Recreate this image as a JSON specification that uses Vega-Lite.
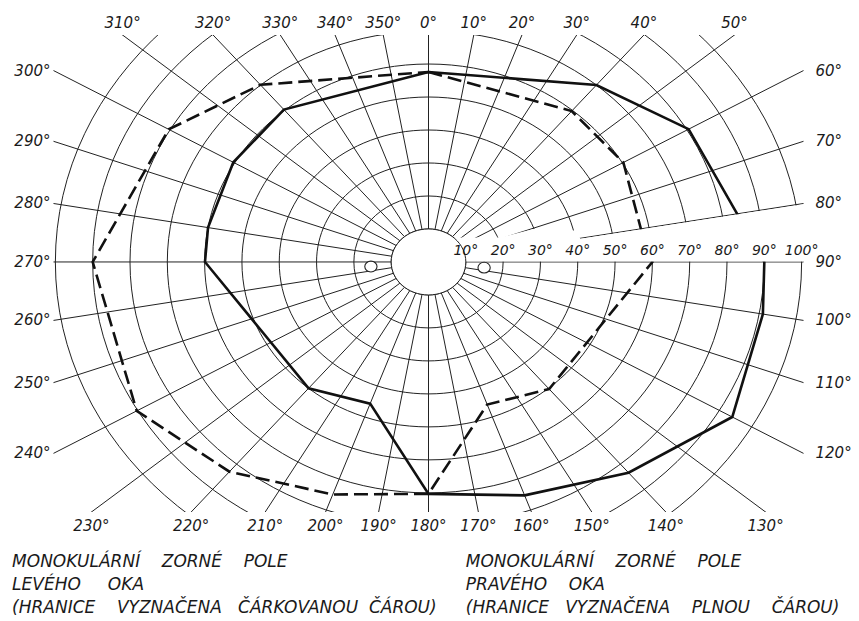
{
  "$schema": "https://vega.github.io/schema/vega-lite/v6.json",
  "width": 750,
  "height": 477,
  "autosize": {"type": "none"},
  "padding": {"left": 53.5, "top": 35, "right": 55.5, "bottom": 109},
  "background": "#ffffff",
  "config": {
    "view": {"stroke": null},
    "text": {"font": "DejaVu Sans", "fontStyle": "italic", "color": "#1a1a1a"}
  },
  "datasets": {
    "grid": [{"r": 10}, {"r": 20}, {"r": 30}, {"r": 40}, {"r": 50}, {"r": 60}, {"r": 70}, {"r": 80}, {"r": 90}, {"r": 100}],
    "spokes": [
      {"angle": 0, "label": "0°"}, {"angle": 10, "label": "10°"}, {"angle": 20, "label": "20°"}, {"angle": 30, "label": "30°"},
      {"angle": 40, "label": "40°"}, {"angle": 50, "label": "50°"}, {"angle": 60, "label": "60°"}, {"angle": 70, "label": "70°"},
      {"angle": 80, "label": "80°"}, {"angle": 90, "label": "90°"}, {"angle": 100, "label": "100°"}, {"angle": 110, "label": "110°"},
      {"angle": 120, "label": "120°"}, {"angle": 130, "label": "130°"}, {"angle": 140, "label": "140°"}, {"angle": 150, "label": "150°"},
      {"angle": 160, "label": "160°"}, {"angle": 170, "label": "170°"}, {"angle": 180, "label": "180°"}, {"angle": 190, "label": "190°"},
      {"angle": 200, "label": "200°"}, {"angle": 210, "label": "210°"}, {"angle": 220, "label": "220°"}, {"angle": 230, "label": "230°"},
      {"angle": 240, "label": "240°"}, {"angle": 250, "label": "250°"}, {"angle": 260, "label": "260°"}, {"angle": 270, "label": "270°"},
      {"angle": 280, "label": "280°"}, {"angle": 290, "label": "290°"}, {"angle": 300, "label": "300°"}, {"angle": 310, "label": "310°"},
      {"angle": 320, "label": "320°"}, {"angle": 330, "label": "330°"}, {"angle": 340, "label": "340°"}, {"angle": 350, "label": "350°"}
    ],
    "field": [
      {"eye": "P", "i": 0, "angle": 0, "r": 57.6},
      {"eye": "P", "i": 1, "angle": 40, "r": 70},
      {"eye": "P", "i": 2, "angle": 60, "r": 80.5},
      {"eye": "P", "i": 3, "angle": 80, "r": 84},
      {"eye": "P", "i": 4, "angle": 90, "r": 90},
      {"eye": "P", "i": 5, "angle": 100, "r": 91},
      {"eye": "P", "i": 6, "angle": 120, "r": 94},
      {"eye": "P", "i": 7, "angle": 140, "r": 83.4},
      {"eye": "P", "i": 8, "angle": 160, "r": 75.3},
      {"eye": "P", "i": 9, "angle": 180, "r": 70.3},
      {"eye": "P", "i": 10, "angle": 200, "r": 45.7},
      {"eye": "P", "i": 11, "angle": 220, "r": 50},
      {"eye": "P", "i": 12, "angle": 270, "r": 59.9},
      {"eye": "P", "i": 13, "angle": 280, "r": 60},
      {"eye": "P", "i": 14, "angle": 300, "r": 60.4},
      {"eye": "P", "i": 15, "angle": 320, "r": 60.3},
      {"eye": "P", "i": 16, "angle": 360, "r": 57.6},
      {"eye": "L", "i": 0, "angle": 0, "r": 57.6},
      {"eye": "L", "i": 1, "angle": 40, "r": 59.7},
      {"eye": "L", "i": 2, "angle": 60, "r": 60.3},
      {"eye": "L", "i": 3, "angle": 80, "r": 57.8},
      {"eye": "L", "i": 4, "angle": 90, "r": 60},
      {"eye": "L", "i": 5, "angle": 140, "r": 50.3},
      {"eye": "L", "i": 6, "angle": 160, "r": 46},
      {"eye": "L", "i": 7, "angle": 180, "r": 70.3},
      {"eye": "L", "i": 8, "angle": 200, "r": 75},
      {"eye": "L", "i": 9, "angle": 220, "r": 83},
      {"eye": "L", "i": 10, "angle": 240, "r": 90.3},
      {"eye": "L", "i": 11, "angle": 270, "r": 90},
      {"eye": "L", "i": 12, "angle": 300, "r": 80.4},
      {"eye": "L", "i": 13, "angle": 320, "r": 70.1},
      {"eye": "L", "i": 14, "angle": 360, "r": 57.6}
    ],
    "rings": [
      {"r": 10, "label": "10°"}, {"r": 20, "label": "20°"}, {"r": 30, "label": "30°"}, {"r": 40, "label": "40°"}, {"r": 50, "label": "50°"},
      {"r": 60, "label": "60°"}, {"r": 70, "label": "70°"}, {"r": 80, "label": "80°"}, {"r": 90, "label": "90°"}, {"r": 100, "label": "100°"}
    ],
    "spots": [{"angle": 264.8, "r": 15.5}, {"angle": 96.6, "r": 15.0}],
    "wedge": [
      {"X": 6.5, "Ytop": 7.4},
      {"X": 19, "Ytop": 7.4},
      {"X": 28.2, "Ytop": 10.0},
      {"X": 39.3, "Ytop": 9.5},
      {"X": 40.7, "Ytop": 7.0},
      {"X": 100.5, "Ytop": 17.5}
    ]
  },
  "layer": [
    {
      "data": {"name": "grid"},
      "mark": {"type": "point", "shape": "M -1 0 A 1 0.8841 0 1 1 1 0 A 1 0.8841 0 1 1 -1 0 Z", "filled": false, "stroke": "#222222", "strokeWidth": 1, "opacity": 1, "clip": true},
      "encoding": {
        "x": {"datum": 0, "type": "quantitative", "scale": {"domain": [-100.5, 100.5], "nice": false, "zero": false}, "axis": null},
        "y": {"datum": 0, "type": "quantitative", "scale": {"domain": [-75.8, 68.8], "nice": false, "zero": false}, "axis": null},
        "size": {"field": "r", "type": "quantitative", "scale": {"type": "pow", "exponent": 2, "domain": [0, 100], "range": [0, 556904]}, "legend": null}
      }
    },
    {
      "data": {"name": "spokes"},
      "transform": [
        {"calculate": "10*sin(datum.angle*PI/180)", "as": "X0"},
        {"calculate": "10*cos(datum.angle*PI/180)", "as": "Y0"},
        {"calculate": "250*sin(datum.angle*PI/180)", "as": "X1"},
        {"calculate": "250*cos(datum.angle*PI/180)", "as": "Y1"}
      ],
      "mark": {"type": "rule", "stroke": "#222222", "strokeWidth": 1, "clip": true},
      "encoding": {
        "x": {"field": "X0", "type": "quantitative", "scale": {"domain": [-100.5, 100.5], "nice": false, "zero": false}, "axis": null},
        "y": {"field": "Y0", "type": "quantitative", "scale": {"domain": [-75.8, 68.8], "nice": false, "zero": false}, "axis": null},
        "x2": {"field": "X1"},
        "y2": {"field": "Y1"}
      }
    },
    {
      "data": {"name": "field"},
      "transform": [
        {"filter": "datum.eye == 'P'"},
        {"calculate": "datum.r*sin(datum.angle*PI/180)", "as": "X"},
        {"calculate": "datum.r*cos(datum.angle*PI/180)", "as": "Y"}
      ],
      "mark": {"type": "line", "stroke": "#111111", "strokeWidth": 2.6, "strokeJoin": "miter", "clip": true},
      "encoding": {
        "x": {"field": "X", "type": "quantitative", "scale": {"domain": [-100.5, 100.5], "nice": false, "zero": false}, "axis": null},
        "y": {"field": "Y", "type": "quantitative", "scale": {"domain": [-75.8, 68.8], "nice": false, "zero": false}, "axis": null},
        "order": {"field": "i", "type": "quantitative"}
      }
    },
    {
      "data": {"name": "field"},
      "transform": [
        {"filter": "datum.eye == 'L'"},
        {"calculate": "datum.r*sin(datum.angle*PI/180)", "as": "X"},
        {"calculate": "datum.r*cos(datum.angle*PI/180)", "as": "Y"}
      ],
      "mark": {"type": "line", "stroke": "#111111", "strokeWidth": 2.6, "strokeDash": [14, 6], "strokeJoin": "miter", "clip": true},
      "encoding": {
        "x": {"field": "X", "type": "quantitative", "scale": {"domain": [-100.5, 100.5], "nice": false, "zero": false}, "axis": null},
        "y": {"field": "Y", "type": "quantitative", "scale": {"domain": [-75.8, 68.8], "nice": false, "zero": false}, "axis": null},
        "order": {"field": "i", "type": "quantitative"}
      }
    },
    {
      "data": {"name": "wedge"},
      "mark": {"type": "area", "fill": "#ffffff", "opacity": 1, "interpolate": "linear", "clip": true},
      "encoding": {
        "x": {"field": "X", "type": "quantitative", "scale": {"domain": [-100.5, 100.5], "nice": false, "zero": false}, "axis": null},
        "y": {"field": "Ytop", "type": "quantitative", "scale": {"domain": [-75.8, 68.8], "nice": false, "zero": false}, "axis": null},
        "y2": {"datum": 0.17}
      }
    },
    {
      "data": {"name": "grid"},
      "transform": [{"filter": "datum.r == 10"}],
      "mark": {"type": "point", "shape": "M -1 0 A 1 0.8841 0 1 1 1 0 A 1 0.8841 0 1 1 -1 0 Z", "filled": true, "fill": "#ffffff", "stroke": "#222222", "strokeWidth": 1, "opacity": 1},
      "encoding": {
        "x": {"datum": 0, "type": "quantitative", "scale": {"domain": [-100.5, 100.5], "nice": false, "zero": false}, "axis": null},
        "y": {"datum": 0, "type": "quantitative", "scale": {"domain": [-75.8, 68.8], "nice": false, "zero": false}, "axis": null},
        "size": {"field": "r", "type": "quantitative", "scale": {"type": "pow", "exponent": 2, "domain": [0, 100], "range": [0, 556904]}, "legend": null}
      }
    },
    {
      "data": {"name": "spots"},
      "transform": [
        {"calculate": "datum.r*sin(datum.angle*PI/180)", "as": "X"},
        {"calculate": "datum.r*cos(datum.angle*PI/180)", "as": "Y"}
      ],
      "mark": {"type": "point", "shape": "M -1 0 A 1 0.8841 0 1 1 1 0 A 1 0.8841 0 1 1 -1 0 Z", "size": 150, "filled": true, "fill": "#ffffff", "stroke": "#222222", "strokeWidth": 1.1, "opacity": 1},
      "encoding": {
        "x": {"field": "X", "type": "quantitative", "scale": {"domain": [-100.5, 100.5], "nice": false, "zero": false}, "axis": null},
        "y": {"field": "Y", "type": "quantitative", "scale": {"domain": [-75.8, 68.8], "nice": false, "zero": false}, "axis": null}
      }
    },
    {
      "data": {"name": "spokes"},
      "transform": [
        {"filter": "datum.angle >= 310 || datum.angle <= 50"},
        {"calculate": "sin(datum.angle*PI/180)", "as": "s"},
        {"calculate": "cos(datum.angle*PI/180)", "as": "c"},
        {"calculate": "min(datum.s > 1e-6 ? 100.5/datum.s : (datum.s < -1e-6 ? -100.5/datum.s : 1e9), datum.c > 1e-6 ? 68.8/datum.c : (datum.c < -1e-6 ? -75.8/datum.c : 1e9))", "as": "t"},
        {"calculate": "datum.t*datum.s", "as": "XE"},
        {"calculate": "datum.t*datum.c", "as": "YE"}
      ],
      "mark": {"type": "text", "fontSize": 15, "align": "center", "baseline": "middle", "dy": -12.5},
      "encoding": {
        "x": {"field": "XE", "type": "quantitative", "scale": {"domain": [-100.5, 100.5], "nice": false, "zero": false}, "axis": null},
        "y": {"field": "YE", "type": "quantitative", "scale": {"domain": [-75.8, 68.8], "nice": false, "zero": false}, "axis": null},
        "text": {"field": "label"}
      }
    },
    {
      "data": {"name": "spokes"},
      "transform": [
        {"filter": "datum.angle >= 60 && datum.angle <= 120"},
        {"calculate": "sin(datum.angle*PI/180)", "as": "s"},
        {"calculate": "cos(datum.angle*PI/180)", "as": "c"},
        {"calculate": "min(datum.s > 1e-6 ? 100.5/datum.s : (datum.s < -1e-6 ? -100.5/datum.s : 1e9), datum.c > 1e-6 ? 68.8/datum.c : (datum.c < -1e-6 ? -75.8/datum.c : 1e9))", "as": "t"},
        {"calculate": "datum.t*datum.s", "as": "XE"},
        {"calculate": "datum.t*datum.c", "as": "YE"}
      ],
      "mark": {"type": "text", "fontSize": 15, "align": "left", "baseline": "middle", "dx": 12},
      "encoding": {
        "x": {"field": "XE", "type": "quantitative", "scale": {"domain": [-100.5, 100.5], "nice": false, "zero": false}, "axis": null},
        "y": {"field": "YE", "type": "quantitative", "scale": {"domain": [-75.8, 68.8], "nice": false, "zero": false}, "axis": null},
        "text": {"field": "label"}
      }
    },
    {
      "data": {"name": "spokes"},
      "transform": [
        {"filter": "datum.angle >= 130 && datum.angle <= 230"},
        {"calculate": "sin(datum.angle*PI/180)", "as": "s"},
        {"calculate": "cos(datum.angle*PI/180)", "as": "c"},
        {"calculate": "min(datum.s > 1e-6 ? 100.5/datum.s : (datum.s < -1e-6 ? -100.5/datum.s : 1e9), datum.c > 1e-6 ? 68.8/datum.c : (datum.c < -1e-6 ? -75.8/datum.c : 1e9))", "as": "t"},
        {"calculate": "datum.t*datum.s", "as": "XE"},
        {"calculate": "datum.t*datum.c", "as": "YE"}
      ],
      "mark": {"type": "text", "fontSize": 15, "align": "center", "baseline": "middle", "dy": 14},
      "encoding": {
        "x": {"field": "XE", "type": "quantitative", "scale": {"domain": [-100.5, 100.5], "nice": false, "zero": false}, "axis": null},
        "y": {"field": "YE", "type": "quantitative", "scale": {"domain": [-75.8, 68.8], "nice": false, "zero": false}, "axis": null},
        "text": {"field": "label"}
      }
    },
    {
      "data": {"name": "spokes"},
      "transform": [
        {"filter": "datum.angle >= 240 && datum.angle <= 300"},
        {"calculate": "sin(datum.angle*PI/180)", "as": "s"},
        {"calculate": "cos(datum.angle*PI/180)", "as": "c"},
        {"calculate": "min(datum.s > 1e-6 ? 100.5/datum.s : (datum.s < -1e-6 ? -100.5/datum.s : 1e9), datum.c > 1e-6 ? 68.8/datum.c : (datum.c < -1e-6 ? -75.8/datum.c : 1e9))", "as": "t"},
        {"calculate": "datum.t*datum.s", "as": "XE"},
        {"calculate": "datum.t*datum.c", "as": "YE"}
      ],
      "mark": {"type": "text", "fontSize": 15, "align": "right", "baseline": "middle", "dx": -3},
      "encoding": {
        "x": {"field": "XE", "type": "quantitative", "scale": {"domain": [-100.5, 100.5], "nice": false, "zero": false}, "axis": null},
        "y": {"field": "YE", "type": "quantitative", "scale": {"domain": [-75.8, 68.8], "nice": false, "zero": false}, "axis": null},
        "text": {"field": "label"}
      }
    },
    {
      "data": {"name": "rings"},
      "mark": {"type": "text", "fontSize": 14, "align": "center", "baseline": "middle", "dy": -10.5},
      "encoding": {
        "x": {"field": "r", "type": "quantitative", "scale": {"domain": [-100.5, 100.5], "nice": false, "zero": false}, "axis": null},
        "y": {"datum": 0, "type": "quantitative", "scale": {"domain": [-75.8, 68.8], "nice": false, "zero": false}, "axis": null},
        "text": {"field": "label"}
      }
    },
    {
      "data": {"values": [{}]},
      "mark": {"type": "text", "fontSize": 17, "align": "left", "baseline": "alphabetic", "lineHeight": 23},
      "encoding": {
        "x": {"datum": -111.6, "type": "quantitative", "scale": {"domain": [-100.5, 100.5], "nice": false, "zero": false}, "axis": null},
        "y": {"datum": -92.46, "type": "quantitative", "scale": {"domain": [-75.8, 68.8], "nice": false, "zero": false}, "axis": null},
        "text": {"value": ["MONOKULÁRNÍ\u00a0\u00a0\u00a0\u00a0ZORNÉ\u00a0\u00a0\u00a0\u00a0POLE", "LEVÉHO\u00a0\u00a0\u00a0\u00a0\u00a0OKA", "(HRANICE\u00a0\u00a0\u00a0\u00a0VYZNAČENA\u00a0\u00a0\u00a0ČÁRKOVANOU\u00a0\u00a0ČÁROU)"]}
      }
    },
    {
      "data": {"values": [{}]},
      "mark": {"type": "text", "fontSize": 17, "align": "left", "baseline": "alphabetic", "lineHeight": 23},
      "encoding": {
        "x": {"datum": 10.0, "type": "quantitative", "scale": {"domain": [-100.5, 100.5], "nice": false, "zero": false}, "axis": null},
        "y": {"datum": -92.46, "type": "quantitative", "scale": {"domain": [-75.8, 68.8], "nice": false, "zero": false}, "axis": null},
        "text": {"value": ["MONOKULÁRNÍ\u00a0\u00a0\u00a0\u00a0ZORNÉ\u00a0\u00a0\u00a0\u00a0POLE", "PRAVÉHO\u00a0\u00a0\u00a0\u00a0OKA", "(HRANICE\u00a0\u00a0\u00a0VYZNAČENA\u00a0\u00a0\u00a0\u00a0PLNOU\u00a0\u00a0\u00a0\u00a0ČÁROU)"]}
      }
    }
  ]
}
